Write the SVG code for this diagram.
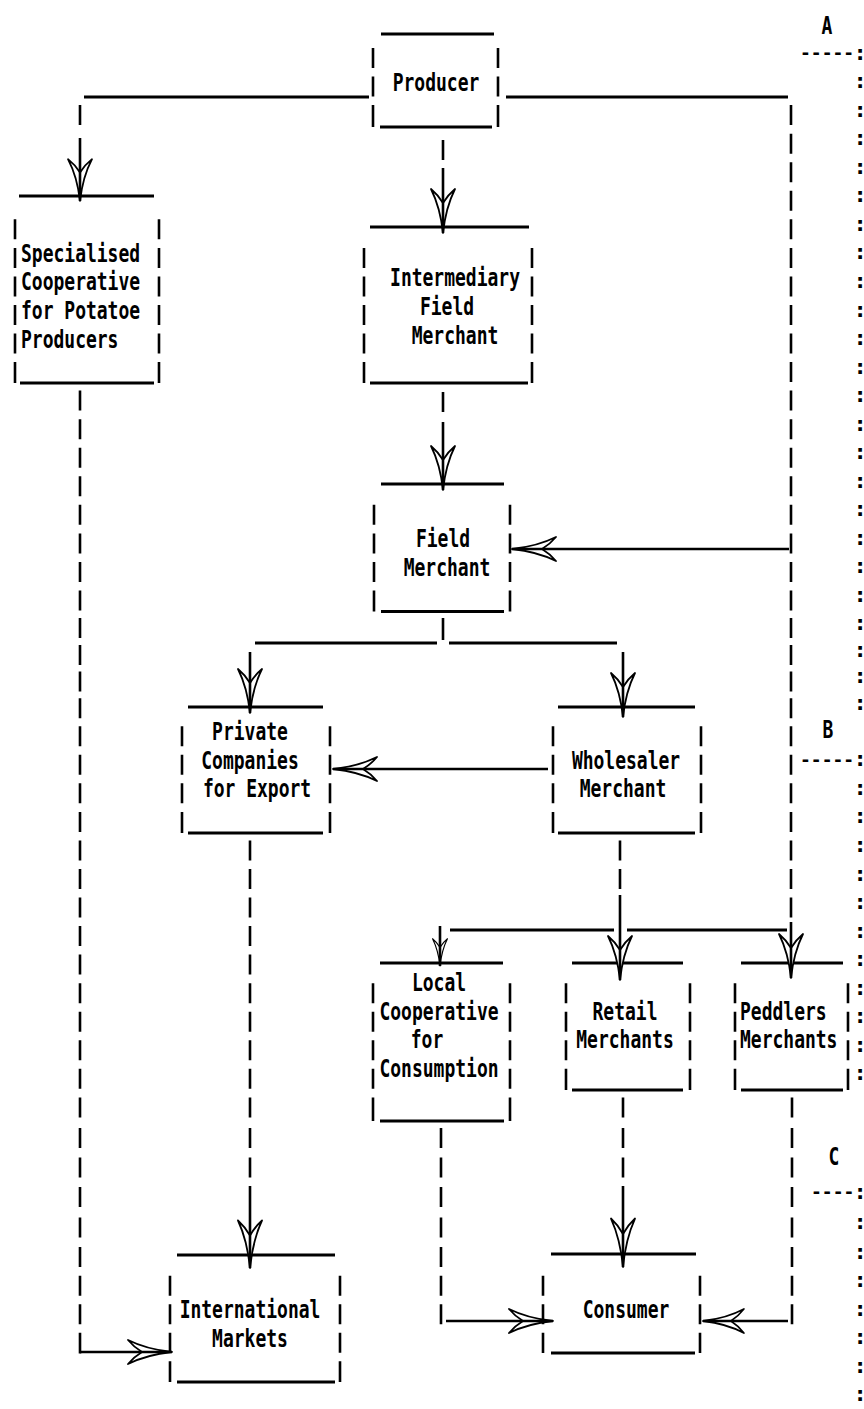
<svg xmlns="http://www.w3.org/2000/svg" width="864" height="1409" viewBox="0 0 864 1409">
<style>
.t{font-family:"DejaVu Sans Mono","Liberation Mono",monospace;font-weight:bold;font-size:18px;fill:#000}
.m{text-anchor:middle}
.c{font-family:"DejaVu Sans Mono","Liberation Mono",monospace;font-weight:bold;font-size:22px;fill:#000;text-anchor:middle}
.ln{stroke:#000;stroke-width:2.8;fill:none}
.br{stroke:#000;stroke-width:2.6;fill:none}
.ah{fill:#fff;stroke:#000;stroke-width:1.8;stroke-linejoin:round}
</style>
<defs>
<path id="ah" d="M0,0 C-1.5,-14 -5,-30 -12,-44 C-6,-39 -3,-35 0,-30 C3,-35 6,-39 12,-44 C5,-30 1.5,-14 0,0 Z"/>
</defs>
<rect width="864" height="1409" fill="#fff"/>

<g id="producer">
<path class="ln" d="M381,34H494M380,127H492"/>
<path class="br" d="M373,48V68M373,76.5V96.5M373,105.1V127M498,48V68M498,76.5V96.5M498,105.1V127"/>
<text class="t m" transform="translate(436,90.5) scale(1,1.4)">Producer</text>
</g>

<g id="specialised">
<path class="ln" d="M19,196H154M20,383H154"/>
<path class="br" d="M15,219.3V239.3M15,247.9V267.9M15,276.4V296.4M15,305V325M15,333.5V353.5M15,362.1V383M159,219.3V239.3M159,247.9V267.9M159,276.4V296.4M159,305V325M159,333.5V353.5M159,362.1V383"/>
<text class="t" transform="translate(21,261.9) scale(1,1.4)">Specialised</text>
<text class="t" transform="translate(21,290.4) scale(1,1.4)">Cooperative</text>
<text class="t" transform="translate(21,319) scale(1,1.4)">for Potatoe</text>
<text class="t" transform="translate(21,347.5) scale(1,1.4)">Producers</text>
</g>

<g id="intermediary">
<path class="ln" d="M370,227H529M370,383H528"/>
<path class="br" d="M364,247.9V267.9M364,276.4V296.4M364,305V325M364,333.5V353.5M364,362.1V383M532,247.9V267.9M532,276.4V296.4M532,305V325M532,333.5V353.5M532,362.1V383"/>
<text class="t m" transform="translate(455,286.4) scale(1,1.4)">Intermediary</text>
<text class="t m" transform="translate(447,315) scale(1,1.4)">Field</text>
<text class="t m" transform="translate(455,343.5) scale(1,1.4)">Merchant</text>
</g>

<g id="field-merchant">
<path class="ln" d="M381,484H504M381,611.5H504"/>
<path class="br" d="M374,504.8V524.8M374,533.4V553.4M374,561.9V581.9M374,590.5V611.5M510,504.8V524.8M510,533.4V553.4M510,561.9V581.9M510,590.5V611.5"/>
<text class="t m" transform="translate(443,547.4) scale(1,1.4)">Field</text>
<text class="t m" transform="translate(447,575.9) scale(1,1.4)">Merchant</text>
</g>

<g id="private-companies">
<path class="ln" d="M188,707H323M188,833H323"/>
<path class="br" d="M182,726.2V746.2M182,754.8V774.8M182,783.3V803.3M182,811.9V833M330,726.2V746.2M330,754.8V774.8M330,783.3V803.3M330,811.9V833"/>
<text class="t m" transform="translate(250,740.2) scale(1,1.4)">Private</text>
<text class="t m" transform="translate(250,768.8) scale(1,1.4)">Companies</text>
<text class="t m" transform="translate(257,797.3) scale(1,1.4)">for Export</text>
</g>

<g id="wholesaler">
<path class="ln" d="M558,707H695M558,833H695"/>
<path class="br" d="M553,726.2V746.2M553,754.8V774.8M553,783.3V803.3M553,811.9V833M701,726.2V746.2M701,754.8V774.8M701,783.3V803.3M701,811.9V833"/>
<text class="t m" transform="translate(626,768.8) scale(1,1.4)">Wholesaler</text>
<text class="t m" transform="translate(623,797.3) scale(1,1.4)">Merchant</text>
</g>

<g id="local-cooperative">
<path class="ln" d="M380,963H503M380,1121H504"/>
<path class="br" d="M373,983.2V1003.2M373,1011.7V1031.7M373,1040.3V1060.3M373,1068.8V1088.8M373,1097.4V1121M510,983.2V1003.2M510,1011.7V1031.7M510,1040.3V1060.3M510,1068.8V1088.8M510,1097.4V1121"/>
<text class="t m" transform="translate(439,991.2) scale(1,1.4)">Local</text>
<text class="t m" transform="translate(439,1019.7) scale(1,1.4)">Cooperative</text>
<text class="t m" transform="translate(427,1048.3) scale(1,1.4)">for</text>
<text class="t m" transform="translate(439,1076.8) scale(1,1.4)">Consumption</text>
</g>

<g id="retail">
<path class="ln" d="M572,963H683M572,1090H683"/>
<path class="br" d="M566,983.2V1003.2M566,1011.7V1031.7M566,1040.3V1060.3M566,1068.8V1090M690,983.2V1003.2M690,1011.7V1031.7M690,1040.3V1060.3M690,1068.8V1090"/>
<text class="t m" transform="translate(625,1019.7) scale(1,1.4)">Retail</text>
<text class="t m" transform="translate(625,1048.3) scale(1,1.4)">Merchants</text>
</g>

<g id="peddlers">
<path class="ln" d="M741,963H843M741,1090H843"/>
<path class="br" d="M735,983.2V1003.2M735,1011.7V1031.7M735,1040.3V1060.3M735,1068.8V1090M848,983.2V1003.2M848,1011.7V1031.7M848,1040.3V1060.3M848,1068.8V1090"/>
<text class="t" transform="translate(740,1019.7) scale(1,1.4)">Peddlers</text>
<text class="t" transform="translate(740,1048.3) scale(1,1.4)">Merchants</text>
</g>

<g id="international-markets">
<path class="ln" d="M177,1255H335M177,1382H335"/>
<path class="br" d="M170,1275.7V1295.7M170,1304.2V1324.2M170,1332.8V1352.8M170,1361.3V1382M340,1275.7V1295.7M340,1304.2V1324.2M340,1332.8V1352.8M340,1361.3V1382"/>
<text class="t m" transform="translate(250,1318.2) scale(1,1.4)">International</text>
<text class="t m" transform="translate(250,1346.8) scale(1,1.4)">Markets</text>
</g>

<g id="consumer">
<path class="ln" d="M551,1254H696M551,1353H695"/>
<path class="br" d="M543,1275.7V1295.7M543,1304.2V1324.2M543,1332.8V1353M700,1275.7V1295.7M700,1304.2V1324.2M700,1332.8V1353"/>
<text class="t m" transform="translate(626,1318.2) scale(1,1.4)">Consumer</text>
</g>

<g id="connectors">
<path class="ln" d="M84,97H369M506,97H788M255,643H437M449,643H617M450,930H614M627,930H787"/>
<path class="br" d="M80,105.1V125.1M443,140V160M443,392V412M443,618V640
M791,105.1V125.1M791,133.7V153.7M791,162.2V182.2M791,190.8V210.8M791,219.3V239.3M791,247.9V267.9M791,276.4V296.4M791,305V325M791,333.5V353.5M791,362.1V382.1M791,390.6V410.6M791,419.2V439.2M791,447.7V467.7M791,476.3V496.3M791,504.8V524.8M791,533.4V553.4M791,561.9V581.9M791,590.5V610.5M791,618V638M791,645V665M791,671.6V691.6M791,698.2V718.2M791,726.2V746.2M791,754.8V774.8M791,783.3V803.3M791,811.9V831.9M791,840.4V860.4M791,869V889M791,897.5V917.5
M80,390.6V410.6M80,419.2V439.2M80,447.7V467.7M80,476.3V496.3M80,504.8V524.8M80,533.4V553.4M80,561.9V581.9M80,590.5V610.5M80,618V638M80,645V665M80,671.6V691.6M80,698.2V718.2M80,726.2V746.2M80,754.8V774.8M80,783.3V803.3M80,811.9V831.9M80,840.4V860.4M80,869V889M80,897.5V917.5M80,926.1V946.1M80,954.6V974.6M80,983.2V1003.2M80,1011.7V1031.7M80,1040.3V1060.3M80,1068.8V1088.8M80,1097.4V1117.4M80,1127.9V1147.9M80,1157.5V1177.5M80,1187V1207M80,1217.6V1237.6M80,1247.1V1267.1M80,1275.7V1295.7M80,1304.2V1324.2M80,1332.8V1353.4
M250,840.4V860.4M250,869V889M250,897.5V917.5M250,926.1V946.1M250,954.6V974.6M250,983.2V1003.2M250,1011.7V1031.7M250,1040.3V1060.3M250,1068.8V1088.8M250,1097.4V1117.4M250,1127.9V1147.9M250,1157.5V1177.5
M620,840.4V860.4M620,869V889
M441,1127.9V1147.9M441,1157.5V1177.5M441,1187V1207M441,1217.6V1237.6M441,1247.1V1267.1M441,1275.7V1295.7M441,1304.2V1324.2
M623,1097.4V1117.4M623,1127.9V1147.9M623,1157.5V1177.5
M792,1097.4V1117.4M792,1127.9V1147.9M792,1157.5V1177.5M792,1187V1207M792,1217.6V1237.6M792,1247.1V1267.1M792,1275.7V1295.7M792,1304.2V1324.2"/>
<use href="#ah" class="ah" transform="translate(80,201) scale(1,0.95)"/>
<use href="#ah" class="ah" transform="translate(443,233)"/>
<use href="#ah" class="ah" transform="translate(443,490)"/>
<use href="#ah" class="ah" transform="translate(791,978)"/>
<use href="#ah" class="ah" transform="translate(250,713)"/>
<use href="#ah" class="ah" transform="translate(623,717)"/>
<use href="#ah" class="ah" transform="translate(620,980)"/>
<use href="#ah" class="ah" transform="translate(440,966) scale(0.62)"/>
<use href="#ah" class="ah" transform="translate(250,1268) scale(1,1.08)"/>
<use href="#ah" class="ah" transform="translate(623,1267) scale(1,1.1)"/>
<use href="#ah" class="ah" transform="translate(512,549) rotate(90)"/>
<use href="#ah" class="ah" transform="translate(333,769) rotate(90)"/>
<use href="#ah" class="ah" transform="translate(172,1352) rotate(-90)"/>
<use href="#ah" class="ah" transform="translate(553,1321) rotate(-90)"/>
<use href="#ah" class="ah" transform="translate(703,1321) rotate(90) scale(1,0.93)"/>
<path class="br" d="M80,138V201M443,168V233M443,422V490M791,922V978M250,652V713M623,652V717M620,895V980M440,926V966M250,1186V1268M623,1186V1267M512,549H789M333,769H548M80,1352H172M446,1321H553M703,1321H788"/>
</g>

<g id="sections">
<text class="t m" transform="translate(827,33.5) scale(1,1.4)">A</text>
<text class="t m" transform="translate(828,738) scale(1,1.4)">B</text>
<text class="t m" transform="translate(834,1165) scale(1,1.4)">C</text>
<text class="t" x="800" y="59">-----</text>
<text class="t" x="800" y="765.8">-----</text>
<text class="t" x="811" y="1198">----</text>
<g class="c">
<text x="860" y="59.5">:</text><text x="860" y="88">:</text><text x="860" y="116.6">:</text><text x="860" y="145.2">:</text><text x="860" y="173.7">:</text><text x="860" y="202.3">:</text><text x="860" y="230.8">:</text><text x="860" y="259.4">:</text><text x="860" y="287.9">:</text><text x="860" y="316.5">:</text><text x="860" y="345">:</text><text x="860" y="373.6">:</text><text x="860" y="402.1">:</text><text x="860" y="430.7">:</text><text x="860" y="459.2">:</text><text x="860" y="487.8">:</text><text x="860" y="516.3">:</text><text x="860" y="544.9">:</text><text x="860" y="573.4">:</text><text x="860" y="602">:</text><text x="860" y="629.5">:</text><text x="860" y="656.5">:</text><text x="860" y="683.1">:</text><text x="860" y="709.7">:</text>
<text x="860" y="766.3">:</text><text x="860" y="794.8">:</text><text x="860" y="823.4">:</text><text x="860" y="851.9">:</text><text x="860" y="880.5">:</text><text x="860" y="909">:</text><text x="860" y="937.6">:</text><text x="860" y="966.1">:</text><text x="860" y="994.7">:</text><text x="860" y="1023.2">:</text><text x="860" y="1051.8">:</text><text x="860" y="1080.3">:</text>
<text x="860" y="1198.5">:</text><text x="860" y="1229.1">:</text><text x="860" y="1258.6">:</text><text x="860" y="1287.2">:</text><text x="860" y="1315.7">:</text><text x="860" y="1344.3">:</text><text x="860" y="1372.8">:</text><text x="860" y="1401.4">:</text>
</g>
</g>
</svg>
